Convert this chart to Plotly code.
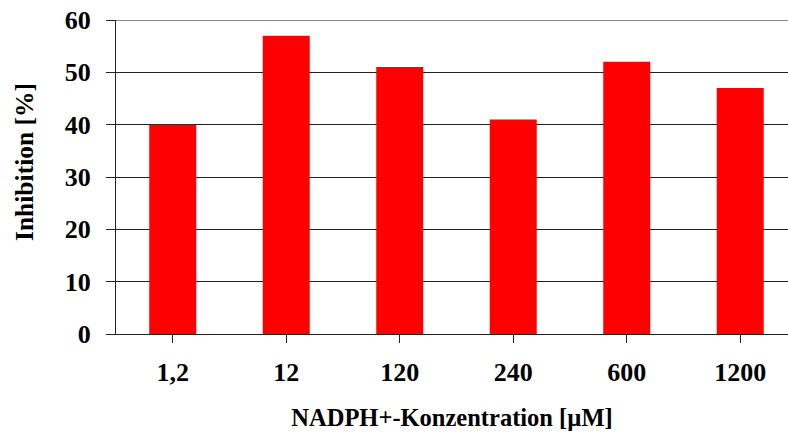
import plotly.graph_objects as go

# NADPH concentrations (µM) and measured inhibition (%)
categories = ["1,2", "12", "120", "240", "600", "1200"]
inhibition = [40, 57, 51, 41, 52, 47]
y_ticks = [0, 10, 20, 30, 40, 50, 60]

font_family = "Liberation Serif, Times New Roman, serif"

fig = go.Figure()
fig.add_trace(go.Bar(
    x=list(range(len(categories))),
    y=inhibition,
    width=0.414,
    marker=dict(color="#ff0000", line=dict(width=0)),
))

fig.update_layout(
    width=788, height=434,
    margin=dict(l=116, r=0, t=20, b=100),
    paper_bgcolor="white",
    plot_bgcolor="white",
    showlegend=False,
    font=dict(family=font_family, size=26, color="black"),
    xaxis=dict(
        range=[-0.5, 5.5 - 9 / 113.5],
        tickmode="array",
        tickvals=list(range(len(categories))),
        ticktext=[f"<b>{c}</b>" for c in categories],
        tickson="boundaries",
        ticks="outside", ticklen=8, tickcolor="#222", tickwidth=1,
        showline=True, linecolor="#222", linewidth=1,
        showgrid=False, zeroline=False,
        ticklabelstandoff=7,
        title=dict(text="<b>NADPH+-Konzentration [µM]</b>", standoff=22,
                   font=dict(size=24.5)),
    ),
    yaxis=dict(
        range=[0, 60],
        tickmode="array",
        tickvals=y_ticks,
        ticktext=[f"<b>{v}</b>" for v in y_ticks],
        ticks="outside", ticklen=9, tickcolor="#222", tickwidth=1,
        showline=True, linecolor="#222", linewidth=1,
        showgrid=True, gridcolor="#222", gridwidth=1.3,
        zeroline=False,
        ticklabelstandoff=10,
    ),
)

# rotated y-axis title, placed left of the tick labels
fig.add_annotation(
    text="<b>Inhibition [%]</b>", textangle=-90,
    xref="paper", yref="paper", x=-92 / 672, y=(334 - 162) / 314,
    xanchor="center", yanchor="middle", showarrow=False,
    font=dict(family=font_family, size=25.5, color="black"),
)

# lighter frame line along the top of the plotting area
fig.add_shape(type="line", xref="paper", yref="y", x0=0, x1=1, y0=60, y1=60,
              line=dict(color="#888", width=2))

fig.write_html("out.html")
